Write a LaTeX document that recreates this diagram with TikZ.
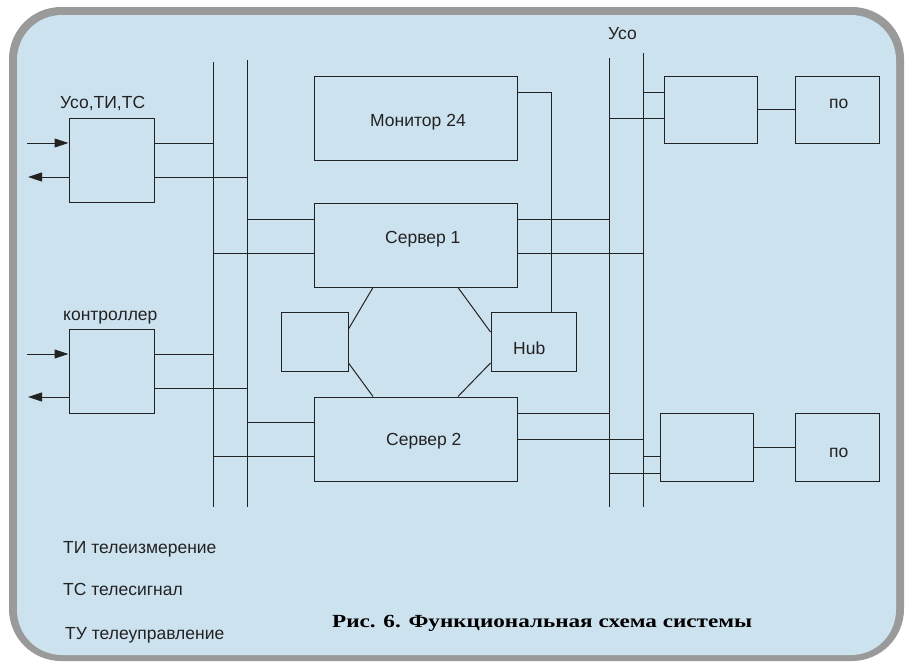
\documentclass[tikz,border=0pt]{standalone}
\usepackage{fontspec}
\usepackage{graphicx}
\setmainfont{Liberation Sans}
\newfontfamily\capfont{Liberation Serif}
\usetikzlibrary{arrows.meta}
\definecolor{bgblue}{HTML}{CDE2EF}
\definecolor{framegray}{HTML}{9A9A9A}
\definecolor{ink}{HTML}{222222}
\tikzset{
  box/.style={draw=ink, line width=1pt, inner sep=0pt},
  wire/.style={draw=ink, line width=1pt},
  bus/.style={draw=ink, line width=1pt},
  lbl/.style={font=\fontsize{17.5}{21}\selectfont, text=ink, inner sep=0pt},
  arr/.style={wire, -{Triangle[length=14pt,width=9pt]}}
}
\begin{document}
\begin{tikzpicture}[x=1pt,y=-1pt]
\useasboundingbox (0,0) rectangle (911,662);
% frame
\fill[framegray, rounded corners=52pt] (9,7) rectangle (904,661);
\fill[bgblue, rounded corners=45pt] (17,15) rectangle (896,655);

% buses
\coordinate (aT) at (213,62);  \coordinate (aB) at (213,507);
\coordinate (bT) at (247,60);  \coordinate (bB) at (247,507);
\coordinate (cT) at (609,58);  \coordinate (cB) at (609,507);
\coordinate (dT) at (643,53);  \coordinate (dB) at (643,507);
\draw[bus] (aT) -- (aB);
\draw[bus] (bT) -- (bB);
\draw[bus] (cT) -- (cB);
\draw[bus] (dT) -- (dB);

% boxes
\node[box, minimum width=85pt, minimum height=84pt] (uso) at (111.5,160) {};
\node[box, minimum width=85pt, minimum height=84pt] (ctrl) at (111.5,371) {};
\node[box, minimum width=203pt, minimum height=84pt] (mon) at (415.5,118) {};
\node[box, minimum width=203pt, minimum height=84pt] (s1) at (415.5,245) {};
\node[box, minimum width=67pt, minimum height=59pt] (small) at (314.5,341.5) {};
\node[box, minimum width=85pt, minimum height=59pt] (hub) at (533.5,341.5) {};
\node[box, minimum width=203pt, minimum height=84pt] (s2) at (415.5,439) {};
\node[box, minimum width=93pt, minimum height=67pt] (r1) at (710.5,109.5) {};
\node[box, minimum width=84pt, minimum height=67pt] (po1) at (837,109.5) {};
\node[box, minimum width=93pt, minimum height=68pt] (r2) at (706.5,447) {};
\node[box, minimum width=84pt, minimum height=68pt] (po2) at (837,447) {};

% labels
\node[lbl, anchor=base west] (tuso) at (60,108) {Усо,ТИ,ТС};
\node[lbl, anchor=base west] (tctrl) at (63,320) {контроллер};
\node[lbl, anchor=base west] (tuso2) at (608,39) {Усо};
\node[lbl, anchor=base west] (tmon) at (370,126) {Монитор 24};
\node[lbl, anchor=base west] (ts1) at (385,243) {Сервер 1};
\node[lbl, anchor=base west] (ts2) at (386,445) {Сервер 2};
\node[lbl, anchor=base west] (thub) at (513,354) {Hub};
\node[lbl, anchor=base west] (tpo1) at (829,108) {по};
\node[lbl, anchor=base west] (tpo2) at (829,457) {по};
\node[lbl, anchor=base west] (lg1) at (63,553) {ТИ телеизмерение};
\node[lbl, anchor=base west] (lg2) at (63,595) {ТС телесигнал};
\node[lbl, anchor=base west] (lg3) at (65,639) {ТУ телеуправление};
\node[anchor=base west, inner sep=0pt, text=black] (cap) at (332,627)
  {\resizebox{420pt}{\height}{\capfont\bfseries\fontsize{18.5}{22}\selectfont Рис. 6. Функциональная схема системы}};

% input / output arrows
\coordinate (in1) at (27,143);  \coordinate (out1) at (28,177);
\coordinate (in2) at (27,354);  \coordinate (out2) at (28,397);
\draw[arr] (in1) -- (uso.west |- in1);
\draw[arr] (uso.west |- out1) -- (out1);
\draw[arr] (in2) -- (ctrl.west |- in2);
\draw[arr] (ctrl.west |- out2) -- (out2);

% left devices to buses
\draw[wire] (uso.east |- in1) -- (aT |- in1);
\draw[wire] (uso.east |- 0,177) -- (bT |- 0,177);
\draw[wire] (ctrl.east |- in2) -- (aT |- in2);
\draw[wire] (ctrl.east |- 0,388) -- (bT |- 0,388);

% servers to left buses
\draw[wire] (bT |- 0,219) -- (s1.west |- 0,219);
\draw[wire] (aT |- 0,253) -- (s1.west |- 0,253);
\draw[wire] (bT |- 0,422) -- (s2.west |- 0,422);
\draw[wire] (aT |- 0,456) -- (s2.west |- 0,456);

% servers to right buses
\draw[wire] (s1.east |- 0,219) -- (cT |- 0,219);
\draw[wire] (s1.east |- 0,253) -- (dT |- 0,253);
\draw[wire] (s2.east |- 0,413) -- (cT |- 0,413);
\draw[wire] (s2.east |- 0,439) -- (dT |- 0,439);

% monitor to hub
\coordinate (mh) at (551,92);
\draw[wire] (mon.east |- mh) -- (mh) -- (mh |- hub.north);

% right buses to right devices
\draw[wire] (dT |- 0,92) -- (r1.west |- 0,92);
\draw[wire] (cT |- 0,118) -- (r1.west |- 0,118);
\draw[wire] (r1.east |- 0,109) -- (po1.west |- 0,109);
\draw[wire] (dT |- 0,456) -- (r2.west |- 0,456);
\draw[wire] (cT |- 0,473) -- (r2.west |- 0,473);
\draw[wire] (r2.east |- 0,447) -- (po2.west |- 0,447);

% ring between servers, small box and hub
\draw[wire] (s1.south -| 373,0) -- (small.east |- 0,329);
\draw[wire] (s1.south -| 458,0) -- (hub.west |- 0,332);
\draw[wire] (small.east |- 0,363) -- (s2.north -| 373,0);
\draw[wire] (hub.west |- 0,363) -- (s2.north -| 458,0);
\end{tikzpicture}
\end{document}
